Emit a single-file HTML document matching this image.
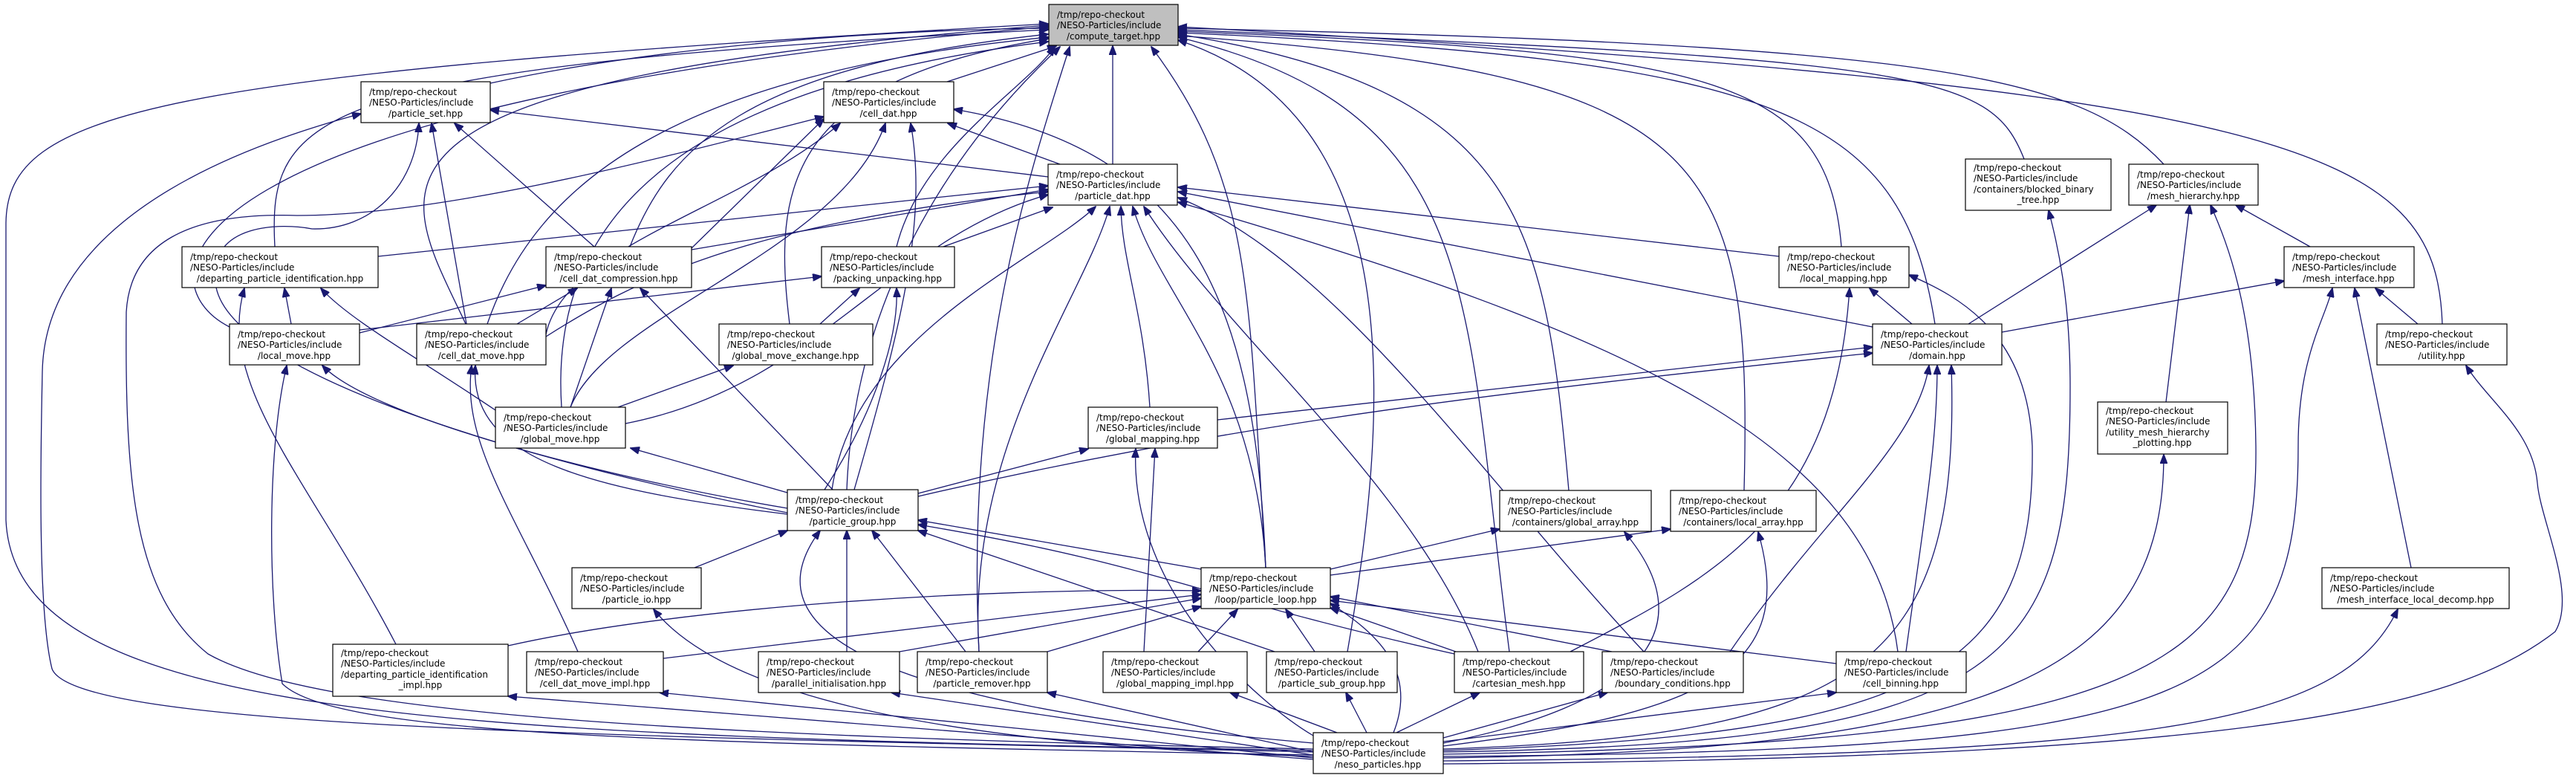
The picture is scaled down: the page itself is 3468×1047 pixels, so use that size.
<!DOCTYPE html>
<html><head><meta charset="utf-8"><style>
html,body{margin:0;padding:0;background:#fff;}
svg{display:block;}
text{font-family:"DejaVu Sans","Liberation Sans",sans-serif;font-size:12px;fill:#000;}
.n rect{fill:#fff;stroke:#000;stroke-width:1.2;}
.m{text-anchor:middle;}
.e path{fill:none;stroke:#191970;stroke-width:1.3;marker-end:url(#a);}
</style></head><body>
<svg width="3468" height="1047" viewBox="0 0 3468 1047" xmlns="http://www.w3.org/2000/svg">
<defs><marker id="a" markerUnits="userSpaceOnUse" markerWidth="13" markerHeight="10" refX="12" refY="5" orient="auto" viewBox="0 0 13 10"><path d="M0,0 L13,5 L0,10 z" fill="#191970" stroke="#191970"/></marker></defs>
<g class="e">
<!-- to compute_target -->
<path d="M660,112 C900,60 1200,40 1411,38"/>
<path d="M1275,110 L1422,62"/>
<path d="M1498,221 L1498,62"/>
<path d="M1207,332 C1240,200 1380,120 1420,63"/>
<path d="M848,332 C900,200 1000,90 1411,46"/>
<path d="M370,332 C360,150 420,90 1411,40"/>
<path d="M309,440 C190,380 200,140 1411,36"/>
<path d="M627,436 C540,250 420,110 1411,34"/>
<path d="M656,436 C720,250 900,100 1411,50"/>
<path d="M1063,436 C1040,250 1060,110 1411,52"/>
<path d="M756,548 C740,300 900,120 1411,56"/>
<path d="M1140,659 C1150,400 1280,200 1427,63"/>
<path d="M1704,764 C1680,400 1690,250 1550,63"/>
<path d="M1768,1010 C600,990 20,970 8,700 L8,300 C10,150 200,100 1411,32"/>
<path d="M2913,221 C2800,100 2600,60 1586,38"/>
<path d="M2479,332 C2460,100 2300,70 1586,42"/>
<path d="M2605,436 C2560,150 2400,80 1586,44"/>
<path d="M2725,214 C2680,100 2600,80 1586,40"/>
<path d="M3288,436 C3280,200 3100,120 1586,36"/>
<path d="M2112,660 C2080,300 2050,120 1586,46"/>
<path d="M2348,660 C2360,200 2300,100 1586,48"/>
<path d="M2032,877 C1970,400 2000,150 1586,50"/>
<path d="M1814,877 C1880,500 1880,150 1586,54"/>
<path d="M1318,877 C1300,500 1380,250 1440,63"/>
<!-- to particle_dat -->
<path d="M1270,332 L1417,279"/>
<path d="M931,336 L1411,255"/>
<path d="M509,345 L1411,250"/>
<path d="M735,453 C850,380 1000,300 1411,258"/>
<path d="M842,570 C1100,520 1200,320 1411,262"/>
<path d="M1120,659 C1150,450 1400,350 1475,278"/>
<path d="M1548,548 C1540,420 1510,350 1509,278"/>
<path d="M1704,764 C1690,500 1560,400 1525,278"/>
<path d="M1318,877 C1300,600 1460,400 1494,278"/>
<path d="M1990,877 C1900,650 1650,450 1540,278"/>
<path d="M2213,877 C2000,650 1800,350 1586,266"/>
<path d="M2555,877 C2520,600 2200,450 1586,272"/>
<path d="M2521,440 L1586,258"/>
<path d="M2395,345 L1586,252"/>
<!-- to cell_dat -->
<path d="M931,334 L1109,160"/>
<path d="M1427,221 L1276,166"/>
<path d="M1704,764 C1690,400 1600,200 1284,147"/>
<path d="M1768,1008 C900,990 420,960 280,880 C180,800 168,650 170,420 C175,330 250,285 400,290 C600,290 900,210 1109,157"/>
<path d="M735,450 C760,330 1000,280 1131,166"/>
<path d="M768,548 C820,420 1130,340 1192,166"/>
<path d="M1150,659 C1210,450 1250,300 1226,166"/>
<!-- to particle_set -->
<path d="M1411,238 L660,148"/>
<path d="M800,332 L612,166"/>
<path d="M628,436 L581,166"/>
<path d="M1768,1012 C800,990 100,980 70,900 C50,820 55,600 57,500 C60,350 200,230 486,153"/>
<path d="M1060,690 C700,620 300,500 290,380 C280,300 380,300 420,308 C500,310 560,250 564,166"/>
<!-- cell_dat_compression -->
<path d="M484,448 L735,384"/>
<path d="M696,436 L777,388"/>
<path d="M768,548 L823,388"/>
<path d="M1121,659 L862,388"/>
<!-- departing_particle_identification -->
<path d="M392,436 L383,388"/>
<path d="M667,552 C560,480 470,430 432,388"/>
<path d="M533,867 C420,650 290,520 329,388"/>
<!-- local_move -->
<path d="M1768,1016 C900,1000 450,990 380,920 C360,800 360,600 386,492"/>
<path d="M1060,684 C800,640 500,560 434,492"/>
<!-- cell_dat_move -->
<path d="M778,877 C700,700 620,600 635,492"/>
<path d="M1060,692 C800,660 630,620 640,492"/>
<!-- gme / packing -->
<path d="M832,548 L987,492"/>
<path d="M1104,436 L1157,388"/>
<path d="M1110,659 C1180,550 1210,450 1207,388"/>
<path d="M484,444 L1106,372"/>
<!-- global_move -->
<path d="M1060,663 L849,603"/>
<!-- global_mapping -->
<path d="M1236,664 L1465,604"/>
<path d="M1768,990 C1700,950 1520,800 1529,604"/>
<path d="M1540,877 L1555,604"/>
<!-- particle_group -->
<path d="M935,764 L1060,714"/>
<path d="M1768,1000 C1300,960 980,880 1104,714"/>
<path d="M1140,877 L1140,714"/>
<path d="M1300,877 L1174,714"/>
<path d="M1716,877 L1236,714"/>
<path d="M1617,766 L1236,700"/>
<path d="M1958,880 C1600,800 1560,760 1236,706"/>
<!-- particle_loop -->
<path d="M684,869 C900,820 1300,790 1617,795"/>
<path d="M893,886 L1617,800"/>
<path d="M1211,877 L1617,805"/>
<path d="M1410,877 L1617,816"/>
<path d="M1613,877 L1666,820"/>
<path d="M1770,877 L1731,820"/>
<path d="M1960,877 L1791,818"/>
<path d="M2170,877 L1791,803"/>
<path d="M2472,893 L1791,808"/>
<path d="M1876,986 C1910,900 1850,850 1791,812"/>
<!-- global/local array -->
<path d="M1791,766 L2019,712"/>
<path d="M1943,1000 C2200,950 2300,850 2187,716"/>
<path d="M1791,774 L2249,712"/>
<path d="M1943,1004 C2300,960 2420,900 2367,716"/>
<!-- to meso children -->
<path d="M1768,1018 C1200,1000 960,920 880,820"/>
<path d="M1768,1022 L684,937"/>
<path d="M1768,1020 L888,932"/>
<path d="M1768,1016 L1200,932"/>
<path d="M1768,1012 L1410,932"/>
<path d="M1800,986 L1656,932"/>
<path d="M1840,986 L1812,932"/>
<path d="M1880,986 L1992,932"/>
<path d="M1943,993 L2164,932"/>
<path d="M1943,998 L2472,932"/>
<!-- domain -->
<path d="M2329,877 C2450,700 2580,600 2597,492"/>
<path d="M2566,877 C2590,700 2608,600 2608,492"/>
<path d="M1943,1008 C2500,990 2640,900 2627,492"/>
<path d="M1639,565 L2521,467"/>
<path d="M1236,668 C1700,560 2100,520 2521,475"/>
<!-- local_mapping -->
<path d="M2114,877 C2300,780 2470,700 2490,388"/>
<path d="M2574,436 L2517,388"/>
<path d="M1943,1010 C2600,990 2740,900 2736,600 C2730,450 2640,400 2570,370"/>
<!-- bbt, mh -->
<path d="M1943,1012 C2700,1000 2787,900 2787,520 C2787,400 2770,330 2758,283"/>
<path d="M2650,436 L2903,276"/>
<path d="M2916,541 L2948,276"/>
<path d="M1943,1015 C2900,1000 3040,900 3037,600 C3035,420 3000,330 2976,276"/>
<path d="M3110,332 L3010,276"/>
<!-- mesh_interface -->
<path d="M2695,447 L3075,378"/>
<path d="M1943,1018 C2950,1010 3094,950 3094,600 C3094,480 3130,430 3140,388"/>
<path d="M3246,764 L3170,388"/>
<path d="M3255,436 L3198,388"/>
<!-- umhp, mild, utility -->
<path d="M1943,1020 C2700,1010 2913,900 2913,612"/>
<path d="M1943,1024 C2900,1015 3150,980 3228,820"/>
<path d="M1943,1028 C3000,1020 3300,960 3440,850 C3470,800 3420,700 3416,650 C3410,580 3350,540 3320,492"/>
</g>
<g class="n">
<rect x="1412" y="6" width="174" height="55" style="fill:#bfbfbf"/><text x="1423" y="24">/tmp/repo-checkout</text><text x="1423" y="38">/NESO-Particles/include</text><text class="m" x="1499" y="53">/compute_target.hpp</text>
<rect x="486" y="110" width="174" height="55"/><text x="497" y="128">/tmp/repo-checkout</text><text x="497" y="142">/NESO-Particles/include</text><text class="m" x="573" y="157">/particle_set.hpp</text>
<rect x="1109" y="110" width="175" height="55"/><text x="1120" y="128">/tmp/repo-checkout</text><text x="1120" y="142">/NESO-Particles/include</text><text class="m" x="1196" y="157">/cell_dat.hpp</text>
<rect x="1411" y="221" width="174" height="55"/><text x="1422" y="239">/tmp/repo-checkout</text><text x="1422" y="253">/NESO-Particles/include</text><text class="m" x="1498" y="268">/particle_dat.hpp</text>
<rect x="2646" y="214" width="196" height="69"/><text x="2657" y="230">/tmp/repo-checkout</text><text x="2657" y="244">/NESO-Particles/include</text><text x="2657" y="259">/containers/blocked_binary</text><text class="m" x="2744" y="273">_tree.hpp</text>
<rect x="2866" y="221" width="174" height="55"/><text x="2877" y="239">/tmp/repo-checkout</text><text x="2877" y="253">/NESO-Particles/include</text><text class="m" x="2953" y="268">/mesh_hierarchy.hpp</text>
<rect x="245" y="332" width="264" height="55"/><text x="256" y="350">/tmp/repo-checkout</text><text x="256" y="364">/NESO-Particles/include</text><text class="m" x="377" y="379">/departing_particle_identification.hpp</text>
<rect x="735" y="332" width="196" height="55"/><text x="746" y="350">/tmp/repo-checkout</text><text x="746" y="364">/NESO-Particles/include</text><text class="m" x="833" y="379">/cell_dat_compression.hpp</text>
<rect x="1106" y="332" width="179" height="55"/><text x="1117" y="350">/tmp/repo-checkout</text><text x="1117" y="364">/NESO-Particles/include</text><text class="m" x="1195" y="379">/packing_unpacking.hpp</text>
<rect x="2395" y="332" width="175" height="55"/><text x="2406" y="350">/tmp/repo-checkout</text><text x="2406" y="364">/NESO-Particles/include</text><text class="m" x="2482" y="379">/local_mapping.hpp</text>
<rect x="3075" y="332" width="175" height="55"/><text x="3086" y="350">/tmp/repo-checkout</text><text x="3086" y="364">/NESO-Particles/include</text><text class="m" x="3162" y="379">/mesh_interface.hpp</text>
<rect x="309" y="436" width="175" height="55"/><text x="320" y="454">/tmp/repo-checkout</text><text x="320" y="468">/NESO-Particles/include</text><text class="m" x="396" y="483">/local_move.hpp</text>
<rect x="561" y="436" width="174" height="55"/><text x="572" y="454">/tmp/repo-checkout</text><text x="572" y="468">/NESO-Particles/include</text><text class="m" x="648" y="483">/cell_dat_move.hpp</text>
<rect x="968" y="436" width="207" height="55"/><text x="979" y="454">/tmp/repo-checkout</text><text x="979" y="468">/NESO-Particles/include</text><text class="m" x="1071" y="483">/global_move_exchange.hpp</text>
<rect x="2521" y="436" width="174" height="55"/><text x="2532" y="454">/tmp/repo-checkout</text><text x="2532" y="468">/NESO-Particles/include</text><text class="m" x="2608" y="483">/domain.hpp</text>
<rect x="3200" y="436" width="175" height="55"/><text x="3211" y="454">/tmp/repo-checkout</text><text x="3211" y="468">/NESO-Particles/include</text><text class="m" x="3287" y="483">/utility.hpp</text>
<rect x="667" y="548" width="175" height="55"/><text x="678" y="566">/tmp/repo-checkout</text><text x="678" y="580">/NESO-Particles/include</text><text class="m" x="754" y="595">/global_move.hpp</text>
<rect x="1465" y="548" width="174" height="55"/><text x="1476" y="566">/tmp/repo-checkout</text><text x="1476" y="580">/NESO-Particles/include</text><text class="m" x="1552" y="595">/global_mapping.hpp</text>
<rect x="2824" y="541" width="175" height="70"/><text x="2835" y="557">/tmp/repo-checkout</text><text x="2835" y="571">/NESO-Particles/include</text><text x="2835" y="586">/utility_mesh_hierarchy</text><text class="m" x="2911" y="600">_plotting.hpp</text>
<rect x="1060" y="659" width="176" height="55"/><text x="1071" y="677">/tmp/repo-checkout</text><text x="1071" y="691">/NESO-Particles/include</text><text class="m" x="1148" y="706">/particle_group.hpp</text>
<rect x="2019" y="660" width="204" height="55"/><text x="2030" y="678">/tmp/repo-checkout</text><text x="2030" y="692">/NESO-Particles/include</text><text class="m" x="2121" y="707">/containers/global_array.hpp</text>
<rect x="2249" y="660" width="196" height="55"/><text x="2260" y="678">/tmp/repo-checkout</text><text x="2260" y="692">/NESO-Particles/include</text><text class="m" x="2347" y="707">/containers/local_array.hpp</text>
<rect x="770" y="764" width="174" height="55"/><text x="781" y="782">/tmp/repo-checkout</text><text x="781" y="796">/NESO-Particles/include</text><text class="m" x="857" y="811">/particle_io.hpp</text>
<rect x="1617" y="764" width="174" height="55"/><text x="1628" y="782">/tmp/repo-checkout</text><text x="1628" y="796">/NESO-Particles/include</text><text class="m" x="1704" y="811">/loop/particle_loop.hpp</text>
<rect x="3126" y="764" width="252" height="55"/><text x="3137" y="782">/tmp/repo-checkout</text><text x="3137" y="796">/NESO-Particles/include</text><text class="m" x="3252" y="811">/mesh_interface_local_decomp.hpp</text>
<rect x="448" y="867" width="236" height="70"/><text x="459" y="883">/tmp/repo-checkout</text><text x="459" y="897">/NESO-Particles/include</text><text x="459" y="912">/departing_particle_identification</text><text class="m" x="566" y="926">_impl.hpp</text>
<rect x="709" y="877" width="184" height="55"/><text x="720" y="895">/tmp/repo-checkout</text><text x="720" y="909">/NESO-Particles/include</text><text class="m" x="801" y="924">/cell_dat_move_impl.hpp</text>
<rect x="1021" y="877" width="190" height="55"/><text x="1032" y="895">/tmp/repo-checkout</text><text x="1032" y="909">/NESO-Particles/include</text><text class="m" x="1116" y="924">/parallel_initialisation.hpp</text>
<rect x="1235" y="877" width="175" height="55"/><text x="1246" y="895">/tmp/repo-checkout</text><text x="1246" y="909">/NESO-Particles/include</text><text class="m" x="1322" y="924">/particle_remover.hpp</text>
<rect x="1485" y="877" width="194" height="55"/><text x="1496" y="895">/tmp/repo-checkout</text><text x="1496" y="909">/NESO-Particles/include</text><text class="m" x="1582" y="924">/global_mapping_impl.hpp</text>
<rect x="1705" y="877" width="176" height="55"/><text x="1716" y="895">/tmp/repo-checkout</text><text x="1716" y="909">/NESO-Particles/include</text><text class="m" x="1793" y="924">/particle_sub_group.hpp</text>
<rect x="1958" y="877" width="174" height="55"/><text x="1969" y="895">/tmp/repo-checkout</text><text x="1969" y="909">/NESO-Particles/include</text><text class="m" x="2045" y="924">/cartesian_mesh.hpp</text>
<rect x="2157" y="877" width="190" height="55"/><text x="2168" y="895">/tmp/repo-checkout</text><text x="2168" y="909">/NESO-Particles/include</text><text class="m" x="2252" y="924">/boundary_conditions.hpp</text>
<rect x="2472" y="877" width="175" height="55"/><text x="2483" y="895">/tmp/repo-checkout</text><text x="2483" y="909">/NESO-Particles/include</text><text class="m" x="2559" y="924">/cell_binning.hpp</text>
<rect x="1768" y="986" width="175" height="55"/><text x="1779" y="1004">/tmp/repo-checkout</text><text x="1779" y="1018">/NESO-Particles/include</text><text class="m" x="1855" y="1033">/neso_particles.hpp</text>
</g>
</svg>
</body></html>
